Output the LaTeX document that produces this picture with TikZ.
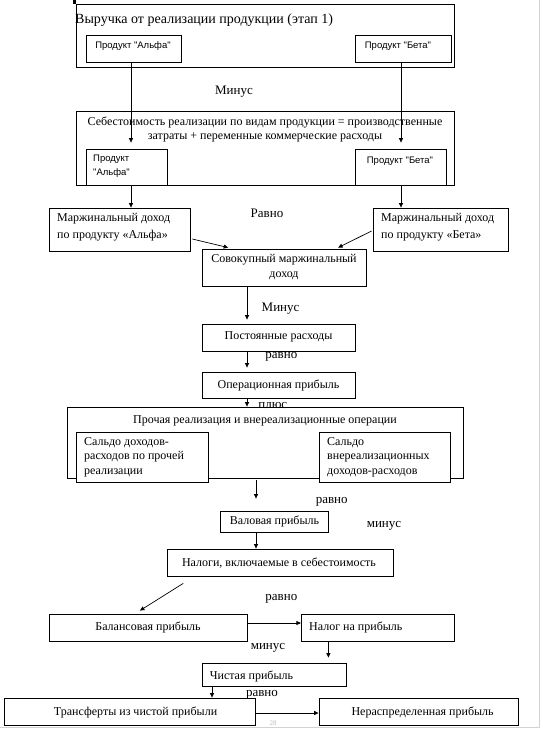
\documentclass[tikz,border=0pt]{standalone}
\usepackage{fontspec}
\setmainfont{Liberation Serif}
\newfontfamily\sansf{Liberation Sans}
\usetikzlibrary{arrows.meta,fit,calc}
\begin{document}
\begin{tikzpicture}[x=1pt,y=-1pt,
 box/.style={draw,line width=0.8pt,inner sep=0pt},
 arr/.style={-{Triangle[length=4.5pt,width=4pt]},line width=0.7pt},
 lbl/.style={font=\fontsize{13}{14}\selectfont,inner sep=0pt},
 txt/.style={font=\fontsize{12}{14}\selectfont,inner sep=0pt,align=center},
 ltxt/.style={font=\fontsize{12}{14.5}\selectfont,inner sep=0pt,align=left,anchor=west},
 prod/.style={font=\sansf\fontsize{9.5}{14}\selectfont,inner sep=0pt}]
\useasboundingbox (0,0) rectangle (542,729);
\draw[gray!35,line width=0.8pt] (539,0) -- (539,727) -- (0,727);
\fill (73,0) rectangle (75.5,3.5);
% coordinates of vertical connector lines
\coordinate (xa) at (131,0);
\coordinate (xb) at (401,0);
\coordinate (xc) at (247,0);
\coordinate (xd) at (256,0);
\coordinate (xe) at (328.4,0);
\coordinate (xf) at (212,0);
% revenue
\node[box,fit={(76,4)(454,67)}] (rev) {};
\node[anchor=west,inner sep=0pt,font=\fontsize{14}{16}\selectfont] (revt) at (75,20) {Выручка от реализации продукции (этап 1)};
\node[box,fit={(86,35)(181,62)}] (a1) {};
\node[prod] (a1t) at (133,46) {Продукт "Альфа"};
\node[box,fit={(355,35)(451,62)}] (b1) {};
\node[prod] (b1t) at (398,46) {Продукт "Бета"};
\node[lbl] (l1) at (234,92) {Минус};
% cost
\node[box,fit={(76,111)(454,185)}] (cost) {};
\node[txt] (costt) at (265,129) {Себестоимость реализации по видам продукции = производственные\\затраты + переменные коммерческие расходы};
\node[box,fit={(86,149)(167,185)}] (a2) {};
\node[prod,align=left,anchor=west] (a2t) at (93,166) {Продукт\\"Альфа"};
\node[box,fit={(355,149)(446,185)}] (b2) {};
\node[prod] (b2t) at (400,161) {Продукт "Бета"};
\draw[arr] (a1.south -| xa) -- ($(a2.north -| xa)+(0,-6)$);
\draw[arr] (b1.south -| xb) -- ($(b2.north -| xb)+(0,-6)$);
% margins
\node[box,fit={(49.5,208)(190.5,251)}] (ma) {};
\node[ltxt,font=\fontsize{12}{17}\selectfont] (mat) at (57,227.5) {Маржинальный доход\\по продукту «Альфа»};
\node[box,fit={(373,208)(508.5,251)}] (mb) {};
\node[ltxt,font=\fontsize{12}{17}\selectfont] (mbt) at (381,227.5) {Маржинальный доход\\по продукту «Бета»};
\draw[arr] (a2.south -| xa) -- (ma.north -| xa);
\draw[arr] (b2.south -| xb) -- (mb.north -| xb);
\node[lbl] (l2) at (267,213) {Равно};
\node[box,fit={(202,249)(366.5,286)}] (sov) {};
\node[txt,font=\fontsize{12}{15}\selectfont] (sovt) at (284,267.5) {Совокупный маржинальный\\доход};
\draw[arr] ($(ma.east)+(1.5,9.5)$) -- ($(sov.north west)+(26.6,-1)$);
\draw[arr] ($(mb.west)+(-1,1.5)$) -- ($(sov.north east)+(-28.8,-1)$);
% fixed costs
\node[box,fit={(202,324)(355,351)}] (post) {};
\node[txt] (postt) at (278.5,337) {Постоянные расходы};
\draw[arr] (sov.south -| xc) -- ($(post.north -| xc)+(0,-4)$);
\node[lbl] (l3) at (280.6,309) {Минус};
\node[box,fit={(202,372)(355,398)}] (oper) {};
\node[txt] (opert) at (278.5,385) {Операционная прибыль};
\draw[arr] (post.south -| xc) -- ($(oper.north -| xc)+(0,-4)$);
\node[lbl] (l4) at (281.4,357) {равно};
% other operations
\node[lbl] (l5) at (272.8,405) {плюс};
\node[box,fit={(67.5,407)(463.5,478)}] (other) {};
\node[txt] (othert) at (265,421) {Прочая реализация и внереализационные операции};
\node[box,fill=white,fit={(76,432)(208,482)}] (l3b) {};
\node[ltxt] (l3t) at (84,457) {Сальдо доходов-\\расходов по прочей\\реализации};
\node[box,fill=white,fit={(319,432)(450,482)}] (r3b) {};
\node[ltxt] (r3t) at (327,457) {Сальдо\\внереализационных\\доходов-расходов};
\draw[arr] (oper.south -| xc) -- (other.north -| xc);
% gross
\node[box,fit={(220.6,511)(328.4,532)}] (val) {};
\node[txt] (valt) at (274.5,521) {Валовая прибыль};
\draw[arr] ($(other.south -| xd)+(0,2)$) -- ($(val.north -| xd)+(0,-12)$);
\node[lbl] (l6) at (331.7,502) {равно};
\node[lbl] (l7) at (384,526) {минус};
\node[box,fit={(167,549)(393,576)}] (nal) {};
\node[txt] (nalt) at (279,563) {Налоги, включаемые в себестоимость};
\draw[arr] (val.south -| xd) -- (nal.north -| xd);
% balance
\node[box,fit={(49.5,614)(247.7,641)}] (bal) {};
\node[txt] (balt) at (148,627) {Балансовая прибыль};
\draw[arr] ($(nal.south west)+(16.6,7)$) -- ($(bal.north west)+(90.8,-3)$);
\node[lbl] (l8) at (281.4,599) {равно};
\node[box,fit={(301.3,614)(454.5,641)}] (nnp) {};
\node[ltxt] (nnpt) at (309,627) {Налог на прибыль};
\draw[arr] ($(bal.east)+(0,-4.5)$) -- ($(nnp.west)+(0,-4.5)$);
\node[lbl] (l9) at (268,648) {минус};
\node[box,fit={(202.6,663)(346.4,686)}] (chist) {};
\node[ltxt] (chistt) at (209.6,676) {Чистая прибыль};
\draw[arr] (nnp.south -| xe) -- ($(chist.north -| xe)+(0,-5)$);
\node[box,fit={(4,698)(255,725)}] (tr) {};
\node[txt] (trt) at (135.6,712) {Трансферты из чистой прибыли};
\draw[arr] (chist.south -| xf) -- (tr.north -| xf);
\node[lbl] (l10) at (262,695) {равно};
\node[box,fit={(319,698)(518,725)}] (ne) {};
\node[txt] (net) at (422.6,712) {Нераспределенная прибыль};
\draw[arr] ($(tr.east)+(1,1.5)$) -- ($(ne.west)+(0,1.5)$);
\node[inner sep=0pt,text=gray!55,font=\fontsize{7}{8}\selectfont] (pg) at (273,723.5) {28};
\end{tikzpicture}
\end{document}
